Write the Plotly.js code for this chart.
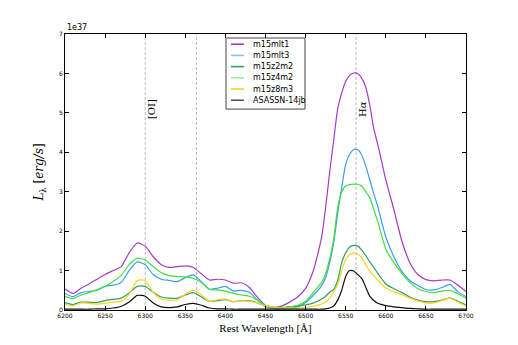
<!DOCTYPE html>
<html>
<head>
<meta charset="utf-8">
<script src="https://cdn.plot.ly/plotly-3.0.1.min.js"></script>
<style>
  html, body { margin: 0; padding: 0; background: #fff; }
  #graph { width: 518px; height: 345px; }
</style>
</head>
<body>
<div id="graph"></div>
<script>
// Rest wavelength grid (Angstrom)
const wave = [6200, 6210, 6220, 6230, 6240, 6250, 6260, 6270, 6280, 6290,
  6300, 6310, 6320, 6330, 6340, 6350, 6360, 6370, 6380, 6390,
  6400, 6410, 6420, 6430, 6440, 6450, 6460, 6470, 6480, 6490,
  6500, 6510, 6520, 6525, 6530, 6535, 6540, 6545, 6550, 6555,
  6560, 6565, 6570, 6575, 6580, 6585, 6590, 6600, 6610, 6620,
  6630, 6640, 6650, 6660, 6670, 6680, 6690, 6700];

// Luminosity in units of 1e37 erg/s/A
const m15mlt1 = [0.53, 0.42, 0.55, 0.66, 0.78, 0.90, 1.00, 1.10, 1.45, 1.70,
  1.62, 1.35, 1.15, 1.08, 1.10, 1.12, 1.08, 0.92, 0.76, 0.78,
  0.76, 0.68, 0.69, 0.57, 0.32, 0.12, 0.07, 0.10, 0.20, 0.33,
  0.55, 1.02, 1.85, 2.60, 3.50, 4.30, 5.10, 5.50, 5.80, 5.95,
  6.01, 6.00, 5.88, 5.65, 5.20, 4.60, 4.20, 3.30, 2.55, 1.75,
  1.20, 0.90, 0.77, 0.74, 0.76, 0.76, 0.63, 0.47];

const m15mlt3 = [0.42, 0.34, 0.44, 0.47, 0.50, 0.60, 0.63, 0.70, 1.00, 1.22,
  1.15, 0.90, 0.78, 0.75, 0.72, 0.82, 0.89, 0.72, 0.53, 0.55,
  0.60, 0.48, 0.50, 0.45, 0.25, 0.09, 0.04, 0.03, 0.04, 0.08,
  0.19, 0.38, 0.62, 0.82, 1.20, 1.70, 2.45, 3.10, 3.70, 3.95,
  4.07, 4.07, 3.93, 3.65, 3.30, 2.95, 2.62, 1.85, 1.35, 0.98,
  0.75, 0.62, 0.52, 0.51, 0.57, 0.65, 0.46, 0.34];

const m15z2m2 = [0.19, 0.14, 0.20, 0.20, 0.19, 0.24, 0.27, 0.30, 0.43, 0.60,
  0.60, 0.45, 0.33, 0.30, 0.30, 0.38, 0.44, 0.33, 0.22, 0.24,
  0.26, 0.21, 0.24, 0.23, 0.18, 0.10, 0.07, 0.06, 0.08, 0.10,
  0.13, 0.18, 0.28, 0.35, 0.45, 0.52, 0.75, 1.20, 1.45, 1.60,
  1.64, 1.62, 1.52, 1.38, 1.22, 1.08, 0.93, 0.66, 0.54, 0.44,
  0.33, 0.25, 0.21, 0.21, 0.25, 0.31, 0.22, 0.13];

const m15z4m2 = [0.34, 0.29, 0.38, 0.44, 0.52, 0.60, 0.72, 0.88, 1.15, 1.31,
  1.27, 1.10, 0.95, 0.87, 0.85, 0.84, 0.80, 0.70, 0.52, 0.51,
  0.48, 0.42, 0.38, 0.35, 0.25, 0.12, 0.06, 0.06, 0.08, 0.12,
  0.22, 0.45, 0.70, 0.92, 1.30, 1.80, 2.60, 3.00, 3.15, 3.18,
  3.19, 3.19, 3.14, 3.00, 2.85, 2.55, 2.24, 1.55, 1.20, 0.93,
  0.70, 0.54, 0.47, 0.44, 0.48, 0.50, 0.41, 0.30];

const m15z8m3 = [0.15, 0.11, 0.18, 0.17, 0.15, 0.17, 0.20, 0.22, 0.40, 0.75,
  0.75, 0.45, 0.28, 0.25, 0.26, 0.40, 0.50, 0.38, 0.22, 0.26,
  0.28, 0.21, 0.23, 0.22, 0.18, 0.11, 0.07, 0.05, 0.05, 0.05,
  0.07, 0.10, 0.15, 0.20, 0.30, 0.45, 0.65, 1.00, 1.28, 1.40,
  1.44, 1.42, 1.32, 1.15, 0.98, 0.88, 0.76, 0.56, 0.46, 0.39,
  0.30, 0.23, 0.18, 0.18, 0.24, 0.30, 0.20, 0.10];

const asassn14jb = [0.02, 0.02, 0.02, 0.02, 0.03, 0.03, 0.05, 0.09, 0.20, 0.37,
  0.35, 0.18, 0.08, 0.06, 0.08, 0.14, 0.17, 0.12, 0.05, 0.03,
  0.03, 0.02, 0.02, 0.02, 0.02, 0.02, 0.02, 0.02, 0.02, 0.02,
  0.02, 0.02, 0.02, 0.03, 0.05, 0.10, 0.25, 0.50, 0.85, 1.00,
  0.99, 0.90, 0.80, 0.58, 0.35, 0.24, 0.17, 0.11, 0.08, 0.06,
  0.04, 0.03, 0.02, 0.02, 0.02, 0.02, 0.02, 0.02];

const seriesNames = ['m15mlt1', 'm15mlt3', 'm15z2m2', 'm15z4m2', 'm15z8m3', 'ASASSN-14jb'];
const seriesValues = [m15mlt1, m15mlt3, m15z2m2, m15z4m2, m15z8m3, asassn14jb];
const seriesColors = ['#a63cc4', '#3d9cec', '#2f9f66', '#3ee03e', '#ffd21a', '#111111'];
// the legend swatches in the original are a touch lighter for two of the models
const swatchColors = ['#a63cc4', '#88c4f2', '#2f9f66', '#99f599', '#ffd21a', '#555555'];

// Marked emission lines
const lineWaves = [6300, 6364, 6563];
const lineLabels = ['[OI]', '', 'H<i>α</i>'];

const data = seriesNames.map((name, i) => ({
  x: wave,
  y: seriesValues[i],
  name: name,
  mode: 'lines',
  line: { color: seriesColors[i], width: 1.2, shape: 'spline', smoothing: 0.6 }
}));

const shapes = lineWaves.map(w => ({
  type: 'line', xref: 'x', yref: 'paper',
  x0: w, x1: w, y0: 0, y1: 1,
  line: { color: '#aaa', width: 0.8, dash: '3px,2px' },
  layer: 'below'
}));

const annotations = [];
lineWaves.forEach((w, i) => {
  if (!lineLabels[i]) return;
  annotations.push({
    x: w, y: 5.1, xref: 'x', yref: 'y',
    text: lineLabels[i], textangle: -90, showarrow: false,
    xshift: 7,
    font: { family: 'DejaVu Serif, serif', size: 10, color: '#000' }
  });
});
annotations.push({
  x: 0, y: 1, xref: 'paper', yref: 'paper', xanchor: 'left', yanchor: 'bottom',
  text: '1e37', showarrow: false,
  font: { family: 'DejaVu Sans, sans-serif', size: 8, color: '#000' }
});

// Compact legend box (matplotlib style), drawn in paper coordinates
const legX0 = 0.4015, legX1 = 0.5985, legY0 = 0.728, legY1 = 0.9855;
const legRowTop = 0.963, legRowStep = 0.0406;
shapes.push({
  type: 'rect', xref: 'paper', yref: 'paper',
  x0: legX0, x1: legX1, y0: legY0, y1: legY1,
  fillcolor: '#fff', line: { color: '#444', width: 1 }, layer: 'above'
});
seriesNames.forEach((name, i) => {
  const yy = legRowTop - i * legRowStep;
  shapes.push({
    type: 'line', xref: 'paper', yref: 'paper',
    x0: 0.414, x1: 0.446, y0: yy, y1: yy,
    line: { color: swatchColors[i], width: 1.6 }, layer: 'above'
  });
  annotations.push({
    x: 0.464, y: yy, xref: 'paper', yref: 'paper',
    xanchor: 'left', yanchor: 'middle', showarrow: false,
    text: name,
    font: { family: 'DejaVu Sans, sans-serif', size: 8, color: '#000' }
  });
});

const axisCommon = {
  showgrid: false, zeroline: false,
  showline: true, linecolor: '#000', linewidth: 1, mirror: 'ticks',
  ticks: 'inside', ticklen: 4, tickcolor: '#000',
  tickfont: { family: 'DejaVu Sans, sans-serif', size: 6, color: '#000' }
};

const layout = {
  width: 518, height: 345,
  margin: { l: 65, r: 52, t: 34, b: 35 },
  paper_bgcolor: '#fff', plot_bgcolor: '#fff',
  showlegend: false,
  xaxis: Object.assign({}, axisCommon, {
    range: [6200, 6700], dtick: 50, tick0: 6200,
    title: { text: 'Rest Wavelength [Å]', standoff: 6,
      font: { family: 'Liberation Serif, serif', size: 11, color: '#000' } }
  }),
  yaxis: Object.assign({}, axisCommon, {
    range: [0, 7], dtick: 1,
    title: { text: '<i>L</i><sub>λ</sub> [<i>erg/s</i>]', standoff: 12,
      font: { family: 'DejaVu Serif, serif', size: 12, color: '#000' } }
  }),
  shapes: shapes,
  annotations: annotations
};

Plotly.newPlot('graph', data, layout, { displayModeBar: false, staticPlot: true });
</script>
</body>
</html>
